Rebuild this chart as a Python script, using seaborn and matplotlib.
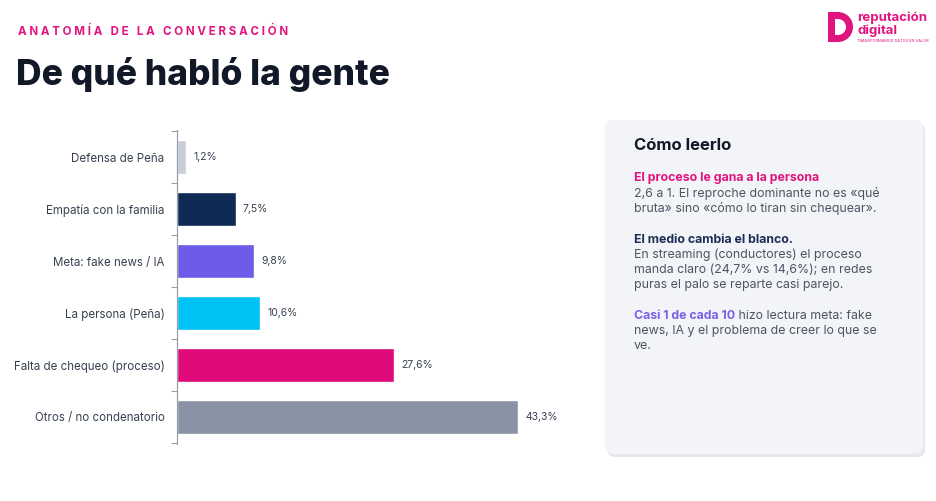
import numpy as np
import matplotlib.pyplot as plt
import seaborn as sns
from matplotlib.patches import FancyBboxPatch, Wedge, Rectangle

# data
categories = ["Defensa de Peña", "Empatía con la familia", "Meta: fake news / IA",
              "La persona (Peña)", "Falta de chequeo (proceso)", "Otros / no condenatorio"]
values = [1.2, 7.5, 9.8, 10.6, 27.6, 43.3]
value_labels = ["1,2%", "7,5%", "9,8%", "10,6%", "27,6%", "43,3%"]
colors = ["#c9ced8", "#0d2b55", "#6c5ce7", "#00c2f5", "#e0097a", "#8a93a6"]

MAGENTA = "#e0147f"
DARK = "#111827"
GRAY = "#4b5563"

sns.set_style("white")
plt.rcParams["font.family"] = ["Inter", "DejaVu Sans"]

W, H = 936, 501
fig = plt.figure(figsize=(W / 100, H / 100), dpi=100)


def px(x, y):
    return x / W, 1 - y / H


# headers
fig.text(*px(18, 32), "A N A T O M Í A   D E   L A   C O N V E R S A C I Ó N",
         color=MAGENTA, fontsize=8.3, fontweight="bold", va="center", ha="left")
fig.text(*px(16, 74), "De qué habló la gente", color=DARK, fontsize=25.5,
         fontweight="heavy", va="center", ha="left")

# bar chart
ax_l, ax_r, ax_t, ax_b = 177, 570, 130, 444
ax = fig.add_axes([ax_l / W, 1 - ax_b / H, (ax_r - ax_l) / W, (ax_b - ax_t) / H])
sns.barplot(x=values, y=categories, hue=categories, palette=colors, legend=False,
            width=0.65, orient="h", ax=ax, saturation=1)
for cont, lab in zip(ax.containers, value_labels):
    ax.bar_label(cont, labels=[lab], padding=5, fontsize=7.5, color="#374151")
ax.set_xlim(0, (ax_r - ax_l) / ((518 - 177) / 43.3))
ax.set_ylim(5.52, -0.52)
ax.set_xlabel("")
ax.set_ylabel("")
ax.set_xticks([])
ax.tick_params(axis="y", which="major", length=0, pad=9, labelsize=8.3, labelcolor="#374151")
ax.set_yticks(np.arange(-0.5, 6, 1), minor=True)
ax.tick_params(axis="y", which="minor", left=True, length=4, width=0.8, color="#9aa0a8")
for s in ["top", "right", "bottom"]:
    ax.spines[s].set_visible(False)
ax.spines["left"].set_color("#9aa0a8")
ax.spines["left"].set_linewidth(0.9)

# side panel
pax = fig.add_axes([0, 0, 1, 1], zorder=-1)
pax.set_xlim(0, W)
pax.set_ylim(H, 0)
pax.axis("off")
pax.add_patch(FancyBboxPatch((607, 123), 318, 334, boxstyle="round,pad=0,rounding_size=8",
                             facecolor="#e6e8ee", edgecolor="none"))
pax.add_patch(FancyBboxPatch((605, 120), 318, 334, boxstyle="round,pad=0,rounding_size=8",
                             facecolor="#f3f4f8", edgecolor="none"))

fig.text(*px(634, 146), "Cómo leerlo", color=DARK, fontsize=12, fontweight="bold", va="center")
fs = 8.9
fig.text(*px(634, 178), "El proceso le gana a la persona", color=MAGENTA, fontsize=fs,
         fontweight="bold", va="center")
fig.text(*px(634, 194), "2,6 a 1. El reproche dominante no es «qué", color=GRAY, fontsize=fs, va="center")
fig.text(*px(634, 209), "bruta» sino «cómo lo tiran sin chequear».", color=GRAY, fontsize=fs, va="center")
fig.text(*px(634, 240), "El medio cambia el blanco.", color="#1e2f55", fontsize=fs,
         fontweight="bold", va="center")
fig.text(*px(634, 255), "En streaming (conductores) el proceso", color=GRAY, fontsize=fs, va="center")
fig.text(*px(634, 270), "manda claro (24,7% vs 14,6%); en redes", color=GRAY, fontsize=fs, va="center")
fig.text(*px(634, 285), "puras el palo se reparte casi parejo.", color=GRAY, fontsize=fs, va="center")
t = fig.text(*px(634, 316), "Casi 1 de cada 10", color="#7b61e8", fontsize=fs,
             fontweight="bold", va="center")
pax.annotate(" hizo lectura meta: fake", xy=(1, 0.5), xycoords=t, color=GRAY,
             fontsize=fs, va="center", ha="left")
fig.text(*px(634, 331), "news, IA y el problema de creer lo que se", color=GRAY, fontsize=fs, va="center")
fig.text(*px(634, 346), "ve.", color=GRAY, fontsize=fs, va="center")

# logo
pax.add_patch(Rectangle((828, 12), 7, 30, facecolor=MAGENTA, edgecolor="none"))
pax.add_patch(Wedge((838, 27), 15, -90, 90, width=7, facecolor=MAGENTA, edgecolor="none"))
pax.add_patch(Rectangle((831, 12), 7, 7, facecolor=MAGENTA, edgecolor="none"))
pax.add_patch(Rectangle((831, 35), 7, 7, facecolor=MAGENTA, edgecolor="none"))
fig.text(*px(857, 18), "reputación", color=MAGENTA, fontsize=9.5, fontweight="bold", va="center")
fig.text(*px(857, 31), "digital", color=MAGENTA, fontsize=9.5, fontweight="bold", va="center")
fig.text(*px(857, 41), "TRANSFORMAMOS DATOS EN VALOR", color=MAGENTA, fontsize=2.8, va="center")

fig.savefig("out.png", dpi=100)
